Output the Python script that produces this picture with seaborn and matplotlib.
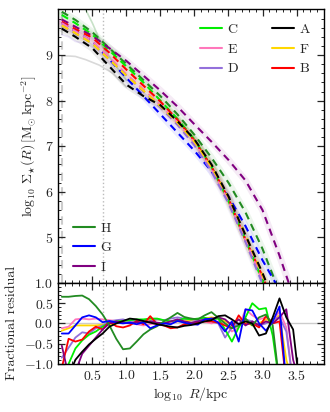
import numpy as np
import matplotlib
matplotlib.use("Agg")
import matplotlib.pyplot as plt
from matplotlib.lines import Line2D
from matplotlib.ticker import MultipleLocator
import seaborn as sns

sns.set_style("ticks")
plt.rcParams["font.family"] = "serif"
plt.rcParams["font.serif"] = ["cmr10", "DejaVu Serif"]
plt.rcParams["mathtext.fontset"] = "cm"
plt.rcParams["axes.formatter.use_mathtext"] = True
plt.rcParams["axes.unicode_minus"] = True
plt.rcParams["font.size"] = 10

# --- model profiles (upper panel) ---
x_model = [0.05, 0.25, 0.5, 0.75, 1.0, 1.25, 1.5, 1.75, 2.0, 2.25, 2.5, 2.75, 3.0, 3.25, 3.5]
model = {
    "H": [9.95, 9.77, 9.50, 9.15, 8.80, 8.45, 8.10, 7.70, 7.25, 6.75, 6.20, 5.55, 4.75, 3.80, 3.0],
    "C": [9.88, 9.70, 9.45, 9.10, 8.75, 8.40, 8.00, 7.60, 7.15, 6.55, 5.80, 4.95, 4.05, 3.2, 2.5],
    "I": [9.78, 9.62, 9.42, 9.15, 8.87, 8.55, 8.22, 7.87, 7.48, 7.10, 6.70, 6.25, 5.60, 4.60, 3.5],
    "B": [9.73, 9.57, 9.38, 9.05, 8.68, 8.33, 7.98, 7.58, 7.12, 6.55, 5.85, 4.95, 4.15, 3.2, 2.5],
    "G": [9.70, 9.52, 9.30, 8.90, 8.50, 8.10, 7.70, 7.30, 6.90, 6.45, 5.90, 5.25, 4.50, 3.85, 3.0],
    "E": [9.70, 9.52, 9.30, 8.95, 8.58, 8.25, 7.90, 7.52, 7.08, 6.50, 5.80, 4.95, 4.05, 3.1, 2.5],
    "D": [9.65, 9.47, 9.25, 8.90, 8.55, 8.20, 7.85, 7.47, 7.02, 6.45, 5.75, 4.90, 3.98, 3.0, 2.5],
    "F": [9.65, 9.48, 9.25, 8.90, 8.55, 8.22, 7.88, 7.52, 7.10, 6.55, 5.88, 5.05, 4.18, 3.2, 2.5],
    "A": [9.58, 9.40, 9.15, 8.75, 8.35, 8.10, 7.90, 7.55, 7.15, 6.60, 5.90, 5.05, 4.22, 3.3, 2.5],
}

# faint measured profiles visible at small radius
x_data_H = [0.30, 0.40, 0.50, 0.66, 0.80, 1.0]
y_data_H = [10.3, 10.0, 9.70, 9.15, 8.85, 8.45]
x_data_A = [0.05, 0.15, 0.25, 0.40, 0.60, 0.80, 1.0]
y_data_A = [8.98, 8.98, 8.97, 8.90, 8.78, 8.60, 8.30]
x_data_D = [0.05, 0.15, 0.25, 0.40, 0.60]
y_data_D = [9.45, 9.40, 9.30, 9.25, 9.10]

# --- fractional residuals (lower panel) ---
x_res = [0.05, 0.15, 0.25, 0.35, 0.45, 0.55, 0.65, 0.75, 0.85, 0.95, 1.05, 1.15,
         1.25, 1.35, 1.45, 1.55, 1.65, 1.75, 1.85, 1.95, 2.05, 2.15, 2.25, 2.35,
         2.45, 2.55, 2.65, 2.75, 2.85, 2.95, 3.05, 3.15, 3.25, 3.35, 3.45, 3.55]
resid = {
    "H": [0.66, 0.66, 0.68, 0.69, 0.60, 0.43, 0.22, -0.05, -0.38, -0.64, -0.62, -0.45,
          -0.27, -0.15, -0.07, 0.05, 0.15, 0.26, 0.16, 0.12, 0.10, 0.20, 0.28, 0.14,
          0.00, -0.12, -0.05, 0.12, -0.05, 0.15, 0.22, -0.05, -1.5, -1.5, -1.5, -1.5],
    "C": [-1.5, -1.0, -0.62, -0.42, -0.28, -0.20, -0.08, 0.02, 0.05, 0.06, 0.08, 0.10,
          0.10, 0.12, 0.12, 0.08, 0.05, 0.08, 0.12, 0.10, 0.12, 0.14, 0.10, 0.12,
          -0.15, -0.45, -0.10, 0.15, 0.50, 0.35, 0.38, -0.30, -1.5, -1.5, -1.5, -1.5],
    "G": [-0.25, -0.25, -0.05, 0.15, 0.20, 0.15, 0.03, 0.06, 0.02, 0.00, 0.02, -0.02,
          0.03, -0.12, -0.05, 0.00, -0.02, 0.06, 0.02, -0.02, -0.03, 0.10, 0.12, 0.02,
          -0.20, 0.05, -0.45, 0.35, 0.32, 0.00, -0.18, 0.05, 0.42, -1.5, -1.5, -1.5],
    "B": [-1.10, -0.38, -0.45, -0.40, -0.20, -0.08, -0.15, 0.05, -0.07, -0.10, -0.05, 0.06,
          -0.02, 0.18, -0.02, -0.05, -0.12, -0.10, -0.02, 0.00, 0.02, 0.05, 0.05, 0.02,
          -0.05, -0.12, 0.20, -0.02, 0.00, -0.10, 0.18, 0.00, 0.05, -1.5, -1.5, -1.5],
    "I": [-0.55, -1.30, -1.20, -0.75, -0.55, -0.35, -0.15, 0.00, 0.05, 0.02, 0.00, 0.03,
          0.02, 0.05, 0.02, 0.00, 0.05, 0.10, 0.05, 0.02, 0.05, 0.10, 0.12, 0.15,
          0.10, -0.05, 0.10, -0.05, 0.05, -0.05, 0.05, 0.00, 0.15, 0.35, -0.90, -1.5],
    "A": [-1.60, -1.30, -0.90, -0.70, -0.52, -0.38, -0.25, -0.08, 0.00, 0.06, 0.12, 0.10,
          0.06, 0.02, -0.02, -0.05, -0.08, -0.10, -0.06, -0.04, 0.00, 0.05, 0.08, 0.18,
          0.20, 0.10, -0.02, 0.05, 0.00, -0.30, -0.25, 0.15, 0.62, 0.15, -0.15, -1.6],
    "F": [-0.18, -0.12, -0.05, -0.05, -0.05, -0.05, -0.03, -0.02, 0.00, 0.02, 0.03, 0.03,
          0.05, 0.08, 0.10, 0.08, 0.05, 0.05, 0.05, 0.08, 0.10, 0.12, 0.15, 0.12,
          0.05, -0.02, 0.10, 0.05, -0.05, 0.00, 0.10, 0.05, 0.20, -0.90, -1.5, -1.5],
    "E": [-0.12, -0.08, 0.10, 0.12, 0.10, 0.12, 0.10, 0.08, 0.06, 0.05, 0.02, -0.02,
          -0.05, -0.02, 0.00, 0.02, 0.00, 0.05, 0.10, 0.12, 0.08, 0.05, 0.00, 0.05,
          0.00, -0.20, -0.10, 0.35, 0.20, 0.10, 0.15, 0.05, 0.30, -0.10, -1.5, -1.5],
    "D": [-0.85, -0.60, -0.35, -0.22, -0.25, -0.12, -0.05, 0.05, 0.08, 0.10, 0.05, 0.08,
          0.05, 0.05, 0.10, 0.08, 0.12, 0.15, 0.12, 0.10, 0.08, 0.12, 0.05, 0.00,
          -0.35, -0.10, 0.00, 0.10, 0.05, -0.05, 0.00, 0.10, 0.15, -0.20, -1.5, -1.5],
}

colors = {
    "C": "#00ee00", "E": "#ff77bb", "D": "#9370db",
    "A": "#000000", "F": "#ffd700", "B": "#ff0000",
    "H": "#228b22", "G": "#0000ff", "I": "#800080",
}
legend_right = ["C", "E", "D", "A", "F", "B"]
legend_left = ["H", "G", "I"]

fig = plt.figure(figsize=(3.3, 4.12), dpi=100)
ax = fig.add_axes([0.177, 0.313, 0.804, 0.664])
axr = fig.add_axes([0.177, 0.117, 0.804, 0.196], sharex=ax)

# reference lines
ax.axvline(0.05, color="#cccccc", lw=1.5, ls=(0, (4, 3)), zorder=0)
ax.axvline(0.66, color="#bbbbbb", lw=1.0, ls=":", zorder=0)
axr.axvline(0.66, color="#bbbbbb", lw=1.0, ls=":", zorder=0)
axr.axhline(0.0, color="#cccccc", lw=1.0, zorder=0)

# faint data bands and profiles
for name, vals in model.items():
    sns.lineplot(x=x_model, y=vals, ax=ax, color=colors[name], lw=5, alpha=0.08,
                 sort=False, estimator=None)
sns.lineplot(x=x_data_H, y=y_data_H, ax=ax, color=colors["H"], lw=1.2, alpha=0.25,
             sort=False, estimator=None)
sns.lineplot(x=x_data_A, y=y_data_A, ax=ax, color="#000000", lw=1.2, alpha=0.15,
             sort=False, estimator=None)
sns.lineplot(x=x_data_D, y=y_data_D, ax=ax, color=colors["D"], lw=1.2, alpha=0.2,
             sort=False, estimator=None)

# dashed model profiles
for name, vals in model.items():
    sns.lineplot(x=x_model, y=vals, ax=ax, color=colors[name], lw=1.5,
                 dashes=False, sort=False, estimator=None)
    ax.lines[-1].set_linestyle((0, (3.5, 2.5)))

# residuals
for name in ["F", "E", "D", "C", "B", "I", "H", "G", "A"]:
    sns.lineplot(x=x_res, y=resid[name], ax=axr, color=colors[name], lw=1.3,
                 sort=False, estimator=None)

for a in (ax, axr):
    a.tick_params(which="both", direction="in", top=True, right=True, labelsize=10)
    a.tick_params(which="major", length=5, width=0.9)
    a.tick_params(which="minor", length=2.5, width=0.7)
    a.xaxis.set_minor_locator(MultipleLocator(0.1))
    for s in a.spines.values():
        s.set_linewidth(1.0)
        s.set_color("black")

ax.set_xlim(0.0, 3.9)
ax.set_xticks([0.5, 1.0, 1.5, 2.0, 2.5, 3.0, 3.5])
ax.set_ylim(4, 10)
ax.set_yticks([5, 6, 7, 8, 9])
ax.yaxis.set_minor_locator(MultipleLocator(0.2))
ax.tick_params(labelbottom=False)
ax.set_xlabel("")
ax.set_ylabel(r"$\log_{10}\,\Sigma_{\star}(R)\,[\mathrm{M_{\odot}\,kpc^{-2}}]$", fontsize=10)

axr.set_ylim(-1.0, 1.0)
axr.set_yticks([-1.0, -0.5, 0.0, 0.5, 1.0])
axr.yaxis.set_minor_locator(MultipleLocator(0.1))
axr.set_xlabel(r"$\log_{10}\ R/\mathrm{kpc}$", fontsize=10, labelpad=2)
axr.set_ylabel("Fractional residual", fontsize=10)
fig.align_ylabels([ax, axr])

h_right = [Line2D([], [], color=colors[n], lw=1.5) for n in legend_right]
leg1 = ax.legend(h_right, legend_right, loc="upper right", ncol=2, frameon=False,
                 fontsize=10, handlelength=1.6, columnspacing=2.4,
                 handletextpad=0.4, borderaxespad=0.6)
ax.add_artist(leg1)
h_left = [Line2D([], [], color=colors[n], lw=1.5) for n in legend_left]
ax.legend(h_left, legend_left, loc="lower left", frameon=False, fontsize=10,
          handlelength=1.6, handletextpad=0.4, borderaxespad=0.25,
          bbox_to_anchor=(0.02, 0.0))

fig.savefig("out.png", dpi=100)
